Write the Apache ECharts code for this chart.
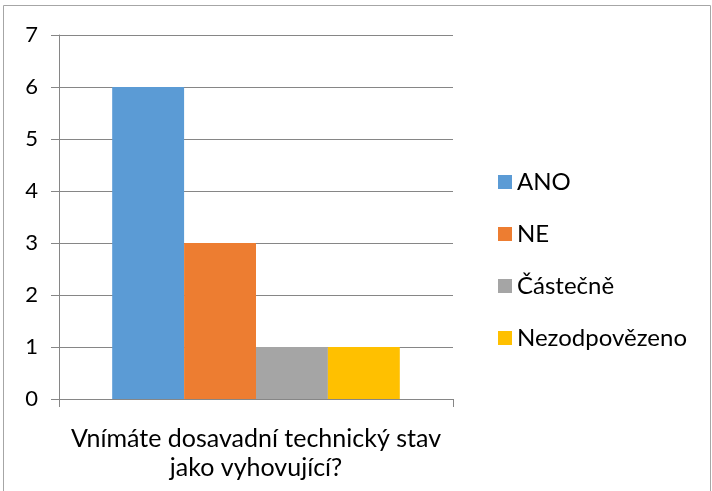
<!DOCTYPE html>
<html>
<head>
<meta charset="utf-8">
<script src="https://cdn.jsdelivr.net/npm/echarts@6/dist/echarts.min.js"></script>
<style>
  html, body { margin: 0; padding: 0; background: #fff; }
  #chart { width: 712px; height: 491px; }
</style>
</head>
<body>
<div id="chart"></div>
<script>
var categories = ['Vnímáte dosavadní technický stav\njako vyhovující?'];
var seriesNames = ['ANO', 'NE', 'Částečně', 'Nezodpovězeno'];
var ano = [6];
var ne = [3];
var castecne = [1];
var nezodpovezeno = [1];
var yTicks = [0, 1, 2, 3, 4, 5, 6, 7];

var colors = ['#5B9BD5', '#ED7D31', '#A5A5A5', '#FFC000'];
var values = [ano, ne, castecne, nezodpovezeno];

var chart = echarts.init(document.getElementById('chart'));

var series = [];
for (var i = 0; i < seriesNames.length; i++) {
    series.push({
        name: seriesNames[i],
        type: 'bar',
        data: values[i],
        barGap: '0%',
        barCategoryGap: '27%',
        itemStyle: { color: colors[i] }
    });
}

var option = {
    animation: false,
    color: colors,
    textStyle: { fontFamily: 'Lato, "Open Sans", sans-serif' },
    grid: { left: 59, right: 259, top: 35, bottom: 92 },
    graphic: [{
        type: 'rect',
        shape: { x: 3.5, y: 5.5, width: 707, height: 490 },
        style: { fill: 'none', stroke: '#a6a6a6', lineWidth: 1 },
        silent: true
    }],
    legend: {
        orient: 'vertical',
        left: 493,
        top: 165,
        itemWidth: 14,
        itemHeight: 14,
        itemGap: 28,
        icon: 'rect',
        textStyle: { fontSize: 24, color: '#000', fontFamily: 'Lato, "Open Sans", sans-serif' },
        data: seriesNames
    },
    xAxis: {
        type: 'category',
        data: categories,
        axisLine: { lineStyle: { color: '#868686' } },
        axisTick: { show: true, length: 8, alignWithLabel: false, lineStyle: { color: '#868686' } },
        axisLabel: {
            fontSize: 25,
            color: '#000',
            lineHeight: 29,
            margin: 25,
            align: 'center'
        }
    },
    yAxis: {
        type: 'value',
        min: yTicks[0],
        max: yTicks[yTicks.length - 1],
        interval: 1,
        axisLine: { show: true, lineStyle: { color: '#868686' } },
        axisTick: { show: true, length: 8, lineStyle: { color: '#868686' } },
        axisLabel: { fontSize: 22, color: '#000', margin: 21 },
        splitLine: { show: true, lineStyle: { color: '#868686' } }
    },
    series: series
};

chart.setOption(option);
</script>
</body>
</html>
